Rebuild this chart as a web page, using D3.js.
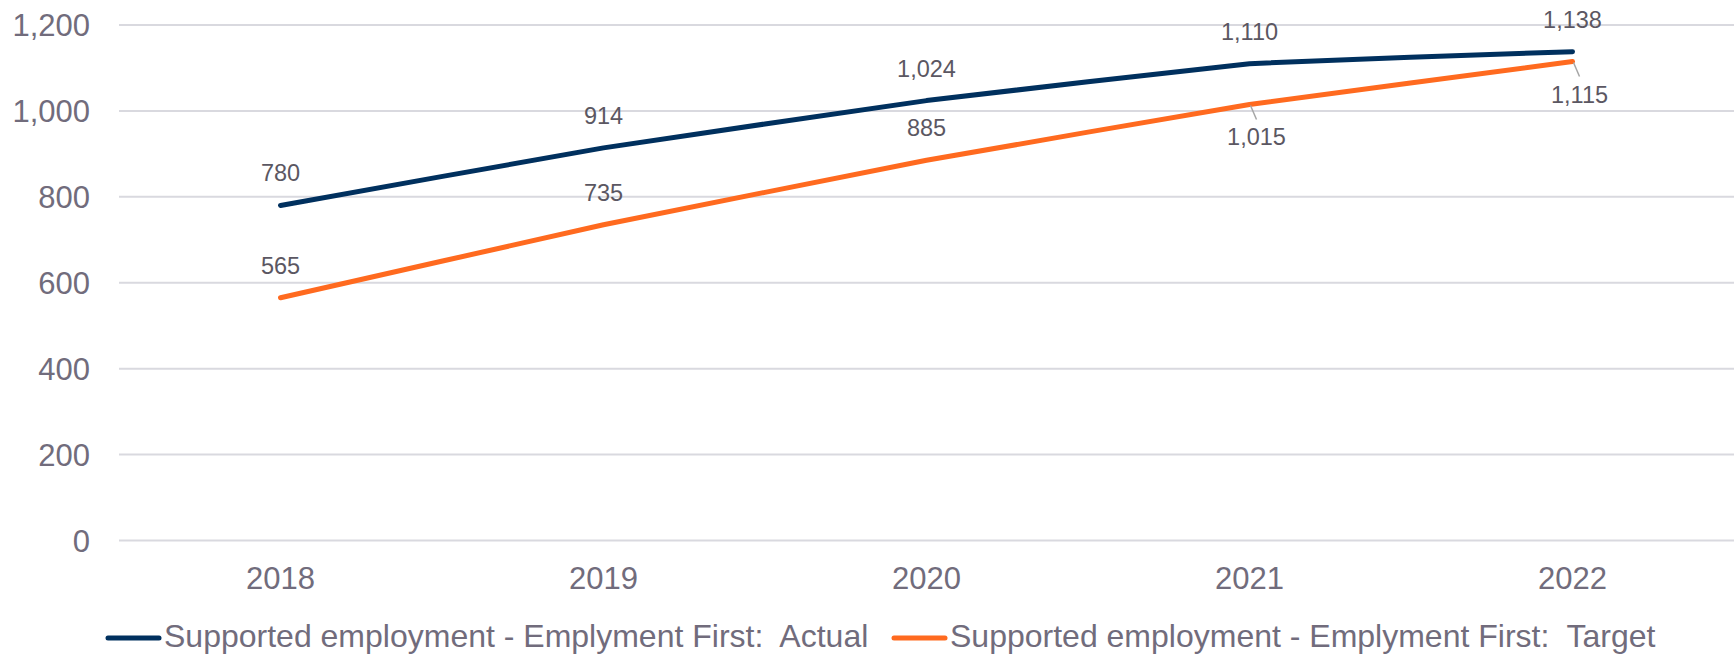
<!DOCTYPE html>
<html><head><meta charset="utf-8">
<script src="https://cdn.jsdelivr.net/npm/d3@7"></script>
<style>
html,body{margin:0;padding:0;background:#fff;}
svg{display:block;font-family:"Liberation Sans",Arial,sans-serif;}
text{white-space:pre;}
</style></head>
<body><svg id="c" width="1734" height="655"></svg>
<script>
const years = ["2018","2019","2020","2021","2022"];
const actual = [780, 914, 1024, 1110, 1138];
const target = [565, 735, 885, 1015, 1115];
const yTicks = [0, 200, 400, 600, 800, 1000, 1200];
const seriesNames = ["Supported employment - Emplyment First:  Actual", "Supported employment - Emplyment First:  Target"];
const colors = ["#00305e", "#ff6a1f"];

const svg = d3.select("#c");
const x = d3.scaleBand().domain(years).range([119, 1734]).padding(0);
const y = d3.scaleLinear().domain([0, 1200]).range([540.5, 25]);
const cx = d => x(d) + x.bandwidth() / 2;
const fmt = d3.format(",");

// gridlines
svg.append("g").selectAll("line").data(yTicks).join("line")
  .attr("x1", 119).attr("x2", 1734)
  .attr("y1", d => y(d)).attr("y2", d => y(d))
  .attr("stroke", "#d9d9df").attr("stroke-width", 2);

// y axis labels
const yAxis = d3.axisLeft(y).tickValues(yTicks).tickFormat(fmt).tickSize(0).tickPadding(0);
const gy = svg.append("g").attr("transform", "translate(90,0)").call(yAxis);
gy.select(".domain").remove();
gy.selectAll("text").attr("font-size", 31).attr("fill", "#716c7c")
  .attr("font-family", "Liberation Sans, Arial, sans-serif").attr("dy", "0.35em");

// x axis labels
const xAxis = d3.axisBottom(x).tickSize(0).tickPadding(0);
const gx = svg.append("g").attr("transform", "translate(0,567)").call(xAxis);
gx.select(".domain").remove();
gx.selectAll("text").attr("font-size", 31).attr("fill", "#716c7c")
  .attr("font-family", "Liberation Sans, Arial, sans-serif").attr("dy", "0.72em");

// lines
const line = d3.line().x((d, i) => cx(years[i])).y(d => y(d)).curve(d3.curveCardinal.tension(0.8));
[actual, target].forEach((s, k) => {
  svg.append("path").datum(s).attr("d", line)
    .attr("fill", "none").attr("stroke", colors[k]).attr("stroke-width", 5)
    .attr("stroke-linecap", "round").attr("stroke-linejoin", "round");
});

// data labels
const lab = svg.append("g").attr("font-size", 23.5).attr("fill", "#5b5762").attr("text-anchor", "middle");
actual.forEach((v, i) => {
  lab.append("text").attr("x", cx(years[i])).attr("y", y(v) - 24).text(fmt(v));
});
target.forEach((v, i) => {
  const px = cx(years[i]), py = y(v);
  if (i < 3) {
    lab.append("text").attr("x", px).attr("y", py - 24).text(fmt(v));
  } else {
    svg.append("line").attr("x1", px + 1).attr("y1", py + 1).attr("x2", px + 7).attr("y2", py + 15)
      .attr("stroke", "#a6a6a6").attr("stroke-width", 1.5);
    lab.append("text").attr("x", px + 7).attr("y", py + 41).text(fmt(v));
  }
});

// legend
const legendX = [106, 892];
const lg = svg.append("g");
seriesNames.forEach((n, k) => {
  lg.append("line").attr("x1", legendX[k] + 2).attr("x2", legendX[k] + 53)
    .attr("y1", 638).attr("y2", 638).attr("stroke", colors[k]).attr("stroke-width", 5)
    .attr("stroke-linecap", "round");
  lg.append("text").attr("x", legendX[k] + 58).attr("y", 647).attr("font-size", 32)
    .attr("fill", "#716c7c").text(n);
});
</script></body></html>
